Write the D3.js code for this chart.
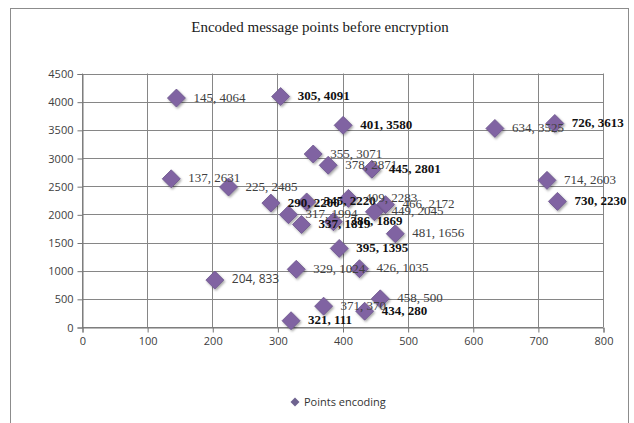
<!DOCTYPE html>
<html>
<head>
<meta charset="utf-8">
<script src="https://cdn.jsdelivr.net/npm/d3@7"></script>
<style>
  html, body { margin: 0; padding: 0; background: #fff; }
  svg { display: block; }
</style>
</head>
<body>
<svg id="chart" width="634" height="423"></svg>
<script>
// Encoded message points (x, y)
const xValues = [145, 305, 401, 634, 726, 355, 378, 445, 714, 730, 137, 225, 290, 345, 409, 466, 449, 317, 337, 386, 481, 395, 329, 426, 204, 458, 371, 434, 321];
const yValues = [4064, 4091, 3580, 3525, 3613, 3071, 2871, 2801, 2603, 2230, 2631, 2485, 2200, 2220, 2283, 2172, 2045, 1994, 1819, 1869, 1656, 1395, 1024, 1035, 833, 500, 370, 280, 111];
const xTicks = [0, 100, 200, 300, 400, 500, 600, 700, 800];
const yTicks = [0, 500, 1000, 1500, 2000, 2500, 3000, 3500, 4000, 4500];
const chartTitle = "Encoded message points before encryption";
const seriesName = "Points encoding";

const points = xValues.map((x, i) => ({ x, y: yValues[i], label: `${x}, ${yValues[i]}` }));

// label styling
const boldLabels = new Set(["305, 4091", "401, 3580", "726, 3613", "445, 2801", "730, 2230",
  "290, 2200", "345, 2220", "337, 1819", "386, 1869", "395, 1395", "434, 280", "321, 111"]);
const sansLabels = new Set(["204, 833"]);

const svg = d3.select("#chart");
const plot = { left: 82, right: 603, top: 73.5, bottom: 327 };

const x = d3.scaleLinear().domain([0, 800]).range([plot.left, plot.right]);
const y = d3.scaleLinear().domain([0, 4500]).range([plot.bottom, plot.top]);

const serif = "'Liberation Serif', 'Times New Roman', serif";
const sans = "'Open Sans', 'Liberation Sans', sans-serif";
const gridColor = "#868686";

// outer frame
svg.append("rect")
  .attr("x", 10.5).attr("y", 8.5)
  .attr("width", 618).attr("height", 430)
  .attr("fill", "#fff").attr("stroke", "#8c8c8c").attr("stroke-width", 1);

// title
svg.append("text")
  .attr("x", 320).attr("y", 32)
  .attr("text-anchor", "middle")
  .attr("font-family", serif).attr("font-size", 15)
  .attr("fill", "#1a1a1a")
  .text(chartTitle);

// gridlines
svg.append("g")
  .selectAll("line")
  .data(xTicks)
  .join("line")
  .attr("x1", d => Math.round(x(d)) + 0.5).attr("x2", d => Math.round(x(d)) + 0.5)
  .attr("y1", plot.top).attr("y2", plot.bottom)
  .attr("stroke", gridColor).attr("stroke-width", 1);

svg.append("g")
  .selectAll("line")
  .data(yTicks)
  .join("line")
  .attr("x1", plot.left).attr("x2", plot.right)
  .attr("y1", d => Math.round(y(d)) + 0.5).attr("y2", d => Math.round(y(d)) + 0.5)
  .attr("stroke", gridColor).attr("stroke-width", 1);

// axes
const xAxis = d3.axisBottom(x).tickValues(xTicks).tickFormat(d3.format("d")).tickSize(5).tickPadding(5);
const yAxis = d3.axisLeft(y).tickValues(yTicks).tickFormat(d3.format("d")).tickSize(5).tickPadding(4);

const gx = svg.append("g")
  .attr("transform", `translate(0.5,${Math.round(y(0)) + 0.5})`)
  .call(xAxis);
const gy = svg.append("g")
  .attr("transform", `translate(${Math.round(x(0)) + 0.5},0.5)`)
  .call(yAxis);

[gx, gy].forEach(g => {
  g.select(".domain").attr("stroke", "#767676");
  g.selectAll(".tick line").attr("stroke", "#767676");
  g.selectAll(".tick text")
    .attr("font-family", sans).attr("font-size", 11)
    .attr("fill", "#404040");
});

// drop shadow for markers
const defs = svg.append("defs");
const shadow = defs.append("filter").attr("id", "shadow")
  .attr("x", "-40%").attr("y", "-40%").attr("width", "180%").attr("height", "180%");
shadow.append("feDropShadow")
  .attr("dx", 1.2).attr("dy", 1.5).attr("stdDeviation", 1)
  .attr("flood-color", "#000").attr("flood-opacity", 0.35);

const diamond = r => `M0,${-r}L${r},0L0,${r}L${-r},0Z`;

// markers
svg.append("g")
  .selectAll("path")
  .data(points)
  .join("path")
  .attr("transform", d => `translate(${x(d.x)},${y(d.y)})`)
  .attr("d", diamond(9))
  .attr("fill", "#8064a2")
  .attr("stroke", "#6b548c")
  .attr("stroke-width", 0.8)
  .attr("filter", "url(#shadow)");

// data labels
svg.append("g")
  .selectAll("text")
  .data(points)
  .join("text")
  .attr("x", d => x(d.x) + 17)
  .attr("y", d => y(d.y) - 1)
  .attr("dy", "0.35em")
  .attr("font-family", d => sansLabels.has(d.label) ? sans : serif)
  .attr("font-size", d => sansLabels.has(d.label) ? 12 : 13)
  .attr("font-weight", d => boldLabels.has(d.label) ? "bold" : "normal")
  .attr("fill", d => boldLabels.has(d.label) ? "#111" : "#404040")
  .text(d => d.label);

// legend
const legend = svg.append("g").attr("transform", "translate(295,402)");
legend.append("path")
  .attr("d", diamond(4.5))
  .attr("fill", "#6f6390");
legend.append("text")
  .attr("x", 9).attr("dy", "0.35em")
  .attr("font-family", sans).attr("font-size", 11)
  .attr("fill", "#333")
  .text(seriesName);
</script>
</body>
</html>
